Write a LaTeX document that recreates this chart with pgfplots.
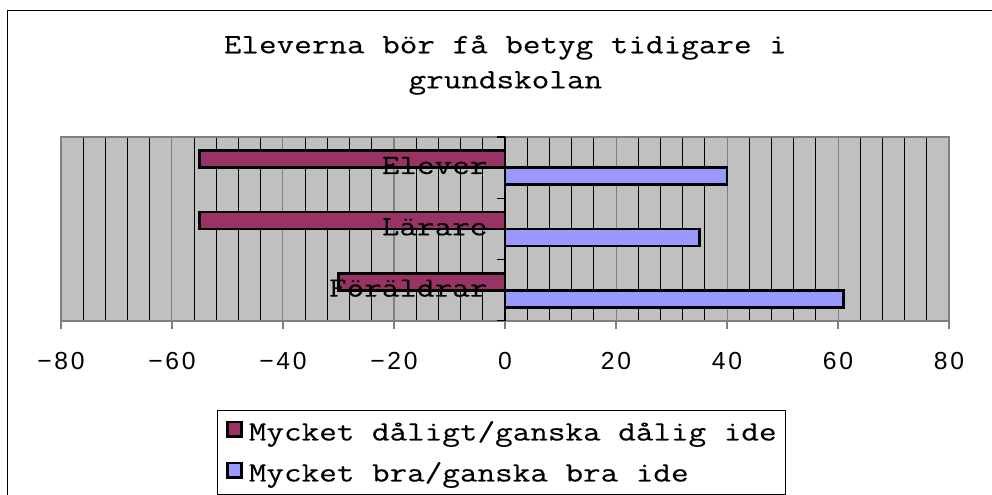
\documentclass[border=0pt]{standalone}
\usepackage{pgfplots}
\pgfplotsset{compat=1.18}
\usepackage{fontspec}
\setmainfont{Latin Modern Mono}[FakeStretch=1.22, FakeBold=0.25]
\newfontfamily\tickfont{Liberation Sans}[LetterSpace=11]
\definecolor{maroon}{HTML}{993366}
\definecolor{lav}{HTML}{9999FF}
\definecolor{bg}{HTML}{C0C0C0}
\definecolor{framegray}{HTML}{808080}
\newcommand\chartfont{\fontsize{21}{25}\selectfont}
\begin{document}
\begin{tikzpicture}
\useasboundingbox (0,0) rectangle (744pt,371.25pt);
\draw[line width=1.1pt] (5.6pt,-20pt) rectangle (770pt,363.2pt);
\node[font=\chartfont, anchor=base, inner sep=0pt] at (379pt,331.3pt) {Eleverna bör få betyg tidigare i};
\node[font=\chartfont, anchor=base, inner sep=0pt] at (379pt,305pt) {grundskolan};
\begin{axis}[
  at={(45.75pt,130.5pt)}, anchor=south west,
  scale only axis, width=666pt, height=138pt,
  xbar, bar width=0.277,
  xmin=-80, xmax=80, ymin=-0.5, ymax=2.5,
  xtick={-80,-60,-40,-20,0,20,40,60,80},
  xticklabels={−80,−60,−40,−20,0,20,40,60,80},
  minor x tick num=4,
  ytick=\empty,
  xmajorgrids, xminorgrids,
  major grid style={draw=framegray, line width=0.75pt},
  minor grid style={draw=black, line width=0.75pt},
  axis line style={draw=framegray, line width=1.1pt},
  axis background/.style={fill=bg},
  tick align=outside, xtick pos=left,
  major tick length=6pt, minor tick length=0pt,
  tick style={draw=framegray, line width=1pt},
  xticklabel style={font=\tickfont\fontsize{18.5}{20}\selectfont, inner sep=0pt, anchor=north, yshift=-17pt},
  legend style={at={(0.1757,-0.4837)}, anchor=north west, draw=black, line width=0.75pt,
    font=\chartfont, inner xsep=6.5pt, inner ysep=4.5pt, row sep=7.75pt,
    nodes={inner sep=0pt, text height=18pt, text depth=5pt},
    /tikz/every even column/.append style={column sep=0pt}},
  legend cell align=left,
]
\addplot[fill=maroon, draw=black, line width=2pt, bar shift=0.1385,
  legend image code/.code={\path[draw=none, fill=none] (0pt,0pt) -- (17pt,0pt);
    \draw[fill=maroon, draw=black, line width=1.8pt] (0.9pt,-3.6pt) rectangle (11.6pt,7.4pt);}]
  coordinates {(-55,2) (-55,1) (-30,0)};
\addlegendentry{Mycket dåligt/ganska dålig ide}
\addplot[fill=lav, draw=black, line width=2pt, bar shift=-0.1385,
  legend image code/.code={\path[draw=none, fill=none] (0pt,0pt) -- (17pt,0pt);
    \draw[fill=lav, draw=black, line width=1.8pt] (0.9pt,-3.6pt) rectangle (11.6pt,7.4pt);}]
  coordinates {(40,2) (35,1) (61,0)};
\addlegendentry{Mycket bra/ganska bra ide}
\draw[black, line width=1.1pt] (axis cs:0,-0.5) -- (axis cs:0,2.5);
\draw[black, line width=1pt] (axis cs:0,-0.5) -- ([xshift=-6pt]axis cs:0,-0.5);
\draw[black, line width=1pt] (axis cs:0,0.5) -- ([xshift=-6pt]axis cs:0,0.5);
\draw[black, line width=1pt] (axis cs:0,1.5) -- ([xshift=-6pt]axis cs:0,1.5);
\draw[black, line width=1pt] (axis cs:0,2.5) -- ([xshift=-6pt]axis cs:0,2.5);
\node[font=\chartfont, anchor=base east, inner sep=0pt, xshift=-13pt, yshift=-4.75pt] at (axis cs:0,2) {Elever};
\node[font=\chartfont, anchor=base east, inner sep=0pt, xshift=-13pt, yshift=-4.75pt] at (axis cs:0,1) {Lärare};
\node[font=\chartfont, anchor=base east, inner sep=0pt, xshift=-13pt, yshift=-4.75pt] at (axis cs:0,0) {Föräldrar};
\end{axis}
\end{tikzpicture}
\end{document}
